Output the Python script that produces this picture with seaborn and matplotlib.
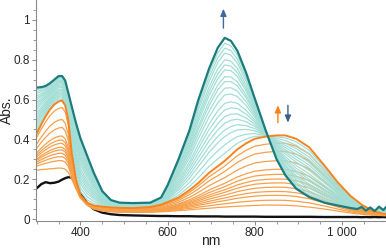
import numpy as np
import pandas as pd
import matplotlib
matplotlib.use("Agg")
import matplotlib.pyplot as plt
import seaborn as sns

# ---- data ----
wl = [300, 310, 320, 330, 340, 350, 358, 365, 372, 380, 390, 400, 415, 430, 450, 470, 490, 520,
      560, 585, 600, 625, 650, 670, 695, 715, 731, 745, 760, 780, 800, 825, 850, 870, 895, 925,
      960, 990, 1020, 1035, 1045, 1055, 1065, 1075, 1085, 1095, 1101]

teal_final = [0.660, 0.662, 0.668, 0.682, 0.700, 0.718, 0.718, 0.695, 0.635, 0.565, 0.480, 0.405,
              0.320, 0.235, 0.140, 0.095, 0.082, 0.080, 0.082, 0.108, 0.170, 0.300, 0.445, 0.595,
              0.755, 0.860, 0.910, 0.895, 0.845, 0.735, 0.605, 0.445, 0.300, 0.220, 0.152, 0.110,
              0.082, 0.068, 0.055, 0.050, 0.060, 0.042, 0.058, 0.040, 0.062, 0.045, 0.060]

orange_final = [0.430, 0.475, 0.515, 0.550, 0.575, 0.590, 0.595, 0.570, 0.500, 0.330, 0.195, 0.120,
                0.082, 0.068, 0.062, 0.058, 0.056, 0.055, 0.060, 0.072, 0.085, 0.108, 0.145, 0.180,
                0.232, 0.265, 0.292, 0.320, 0.350, 0.380, 0.403, 0.414, 0.420, 0.420, 0.403, 0.360,
                0.268, 0.185, 0.115, 0.090, 0.072, 0.060, 0.048, 0.038, 0.032, 0.026, 0.025]

orange_first = [0.245, 0.248, 0.250, 0.252, 0.254, 0.256, 0.255, 0.250, 0.235, 0.200, 0.150, 0.105,
                0.070, 0.050, 0.040, 0.036, 0.034, 0.033, 0.034, 0.036, 0.038, 0.042, 0.046, 0.050,
                0.054, 0.058, 0.060, 0.062, 0.064, 0.066, 0.068, 0.070, 0.070, 0.069, 0.066, 0.060,
                0.050, 0.040, 0.030, 0.026, 0.024, 0.022, 0.020, 0.019, 0.018, 0.017, 0.017]

black = [0.155, 0.175, 0.185, 0.180, 0.182, 0.188, 0.198, 0.205, 0.210, 0.208, 0.180, 0.130,
         0.080, 0.050, 0.032, 0.024, 0.020, 0.018, 0.016, 0.015, 0.015, 0.014, 0.014, 0.013,
         0.013, 0.013, 0.012, 0.012, 0.012, 0.012, 0.012, 0.011, 0.011, 0.011, 0.011, 0.011,
         0.010, 0.010, 0.010, 0.010, 0.009, 0.010, 0.009, 0.010, 0.009, 0.010, 0.009]

# orange (intermediate) curves: UV-band peak and NIR-band peak heights
orange_uv_peaks = [0.255, 0.293, 0.313, 0.330, 0.347, 0.360, 0.380, 0.397, 0.417, 0.460, 0.500, 0.560]
orange_nir_peaks = [0.062, 0.087, 0.112, 0.132, 0.154, 0.176, 0.196, 0.220, 0.246, 0.290, 0.338, 0.380]
# teal (intermediate) curves: height at 731 nm
teal_peaks = [0.330, 0.372, 0.414, 0.447, 0.481, 0.514, 0.548, 0.581, 0.623, 0.657, 0.690,
              0.715, 0.749, 0.774, 0.800, 0.833, 0.858, 0.883]

xtick_vals = [400, 600, 800, 1000]
xtick_labels = ["400", "600", "800", "1 000"]
ytick_vals = [0, 0.2, 0.4, 0.6, 0.8, 1.0]
ytick_labels = ["0", "0.2", "0.4", "0.6", "0.8", "1"]

# ---- build curve tables ----
w = np.array(wl, float)
T = np.array(teal_final); OF = np.array(orange_final); O0 = np.array(orange_first)
blend = np.clip((w - 470) / (560 - 470), 0, 1)

rows = []
for i, (u, n) in enumerate(zip(orange_uv_peaks, orange_nir_peaks)):
    wu = (u - 0.255) / (0.595 - 0.255)
    wn = (n - 0.062) / (0.420 - 0.062)
    k = wu * (1 - blend) + wn * blend
    y = O0 + k * (OF - O0)
    rows.append(pd.DataFrame({"nm": wl, "abs": y, "curve": i}))
orange_df = pd.concat(rows)

rows = []
for i, p in enumerate(teal_peaks):
    k = (p - 0.292) / (0.910 - 0.292)
    y = OF + k * (T - OF)
    rows.append(pd.DataFrame({"nm": wl, "abs": y, "curve": i}))
teal_df = pd.concat(rows)

black_df = pd.DataFrame({"nm": wl, "abs": black})
of_df = pd.DataFrame({"nm": wl, "abs": orange_final})
tf_df = pd.DataFrame({"nm": wl, "abs": teal_final})

# ---- plot ----
sns.set_theme(style="ticks")
plt.rcParams["font.family"] = ["Liberation Sans", "DejaVu Sans"]

fig = plt.figure(figsize=(3.86, 2.49), dpi=100)
ax = fig.add_axes([36 / 386, 1 - 221 / 249, 350 / 386, 221 / 249])

sns.lineplot(data=black_df, x="nm", y="abs", color="#111111", lw=1.7, ax=ax, sort=False)
sns.lineplot(data=orange_df, x="nm", y="abs", units="curve", estimator=None, color="#f6a04c",
             lw=0.9, ax=ax, sort=False)
sns.lineplot(data=teal_df, x="nm", y="abs", units="curve", estimator=None, color="#a3ded6",
             lw=0.9, ax=ax, sort=False)
sns.lineplot(data=of_df, x="nm", y="abs", color="#f5841f", lw=1.4, ax=ax, sort=False)
sns.lineplot(data=tf_df, x="nm", y="abs", color="#1c7c7d", lw=1.6, ax=ax, sort=False)

ax.set_xlim(298, 1101)
ax.set_ylim(-0.01, 1.10)

ax.set_xticks(xtick_vals)
ax.set_xticklabels(xtick_labels)
ax.set_yticks(ytick_vals)
ax.set_yticklabels(ytick_labels)
ax.set_xticks(np.arange(300, 1101, 50), minor=True)
ax.set_yticks(np.arange(0, 1.1, 0.05), minor=True)
ax.tick_params(which="major", length=3, width=0.7, color="#8a8a8a", labelsize=8.5, pad=1.5)
ax.tick_params(which="minor", length=2, width=0.6, color="#8a8a8a")

for s in ["top", "right"]:
    ax.spines[s].set_visible(False)
for s in ["left", "bottom"]:
    ax.spines[s].set_color("#8a8a8a")
    ax.spines[s].set_linewidth(0.8)

ax.set_xlabel("nm", fontsize=10)
ax.set_ylabel("Abs.", fontsize=10)
ax.xaxis.set_label_coords(0.5, -0.058)
ax.yaxis.set_label_coords(-0.062, 0.5)

arrow = dict(arrowstyle="-|>,head_length=0.35,head_width=0.15", lw=1.0)
ax.annotate("", xy=(728, 1.07), xytext=(728, 0.945), arrowprops=dict(arrow, color="#3f67a0"))
ax.annotate("", xy=(853, 0.585), xytext=(853, 0.47), arrowprops=dict(arrow, color="#f5841f"))
ax.annotate("", xy=(876, 0.47), xytext=(876, 0.585), arrowprops=dict(arrow, color="#3a5f8e"))

fig.savefig("out.png", dpi=100)
